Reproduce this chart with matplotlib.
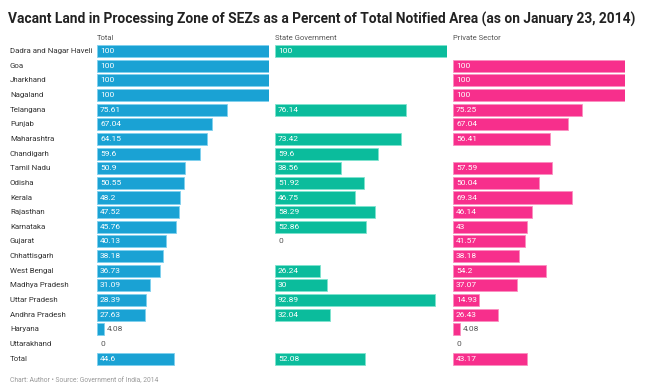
import numpy as np
import matplotlib.pyplot as plt

states = ["Dadra and Nagar Haveli", "Goa", "Jharkhand", "Nagaland", "Telangana",
          "Punjab", "Maharashtra", "Chandigarh", "Tamil Nadu", "Odisha", "Kerala",
          "Rajasthan", "Karnataka", "Gujarat", "Chhattisgarh", "West Bengal",
          "Madhya Pradesh", "Uttar Pradesh", "Andhra Pradesh", "Haryana",
          "Uttarakhand", "Total"]

total = [100, 100, 100, 100, 75.61, 67.04, 64.15, 59.6, 50.9, 50.55, 48.2,
         47.52, 45.76, 40.13, 38.18, 36.73, 31.09, 28.39, 27.63, 4.08, 0, 44.6]

state_govt = [100, None, None, None, 76.14, None, 73.42, 59.6, 38.56, 51.92, 46.75,
              58.29, 52.86, 0, None, 26.24, 30, 92.89, 32.04, None, None, 52.08]

private = [None, 100, 100, 100, 75.25, 67.04, 56.41, None, 57.59, 50.04, 69.34,
           46.14, 43, 41.57, 38.18, 54.2, 37.07, 14.93, 26.43, 4.08, 0, 43.17]

columns = ["Total", "State Government", "Private Sector"]
colors = ["#1aa2d4", "#0bbc9c", "#f72f8c"]
edges = ["#7fd0ee", "#7fe3cf", "#fb8fc0"]

W, H = 650, 392
fig = plt.figure(figsize=(W / 100, H / 100), dpi=100)
plt.rcParams['font.family'] = ['Roboto', 'DejaVu Sans']

row_h = 14.65
top = 51 - row_h / 2
bottom = 51 + 21 * row_h + row_h / 2
lefts = [97, 275, 453]
width_px = 172

y = np.arange(len(states))
for k, (name, vals) in enumerate(zip(columns, [total, state_govt, private])):
    ax = fig.add_axes([lefts[k] / W, 1 - bottom / H, width_px / W, (bottom - top) / H])
    ax.set_xlim(0, 100)
    ax.set_ylim(len(states) - 0.5, -0.5)
    ax.axis("off")
    for i, v in enumerate(vals):
        if v is None:
            continue
        if v > 0:
            ax.barh(i, v, height=0.82, color=colors[k], edgecolor=edges[k], linewidth=0.6)
        if v < 10:
            ax.text(v + 1.8, i, f"{v:g}", va="center", ha="left", fontsize=6, color="#555555")
        else:
            ax.text(1.8, i, f"{v:g}", va="center", ha="left", fontsize=6, color="white")
    fig.text(lefts[k] / W, 1 - 38 / H, name, fontsize=5.5, color="#555555", va="center")

for i, s in enumerate(states):
    fig.text(10 / W, 1 - (51 + i * row_h) / H, s, fontsize=5.7, color="#333333", va="center")

fig.text(8 / W, 1 - 19 / H,
         "Vacant Land in Processing Zone of SEZs as a Percent of Total Notified Area (as on January 23, 2014)",
         fontsize=9.9, fontweight="bold", color="#222222", va="center")
fig.text(10 / W, 1 - 381 / H, "Chart: Author \u2022 Source: Government of India, 2014",
         fontsize=4.9, color="#999999", va="center")

fig.savefig("out.png", dpi=100, facecolor="white")
